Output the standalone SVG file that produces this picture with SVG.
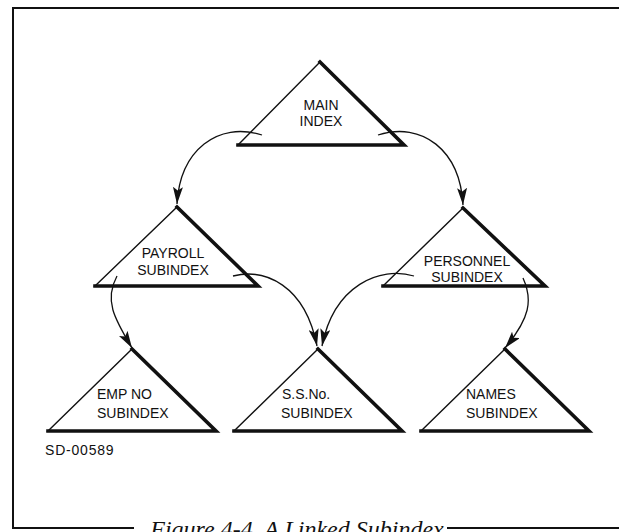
<svg xmlns="http://www.w3.org/2000/svg" width="619" height="532" viewBox="0 0 619 532">
  <style>
    .bg { fill: #ffffff; }
    .frame { fill: none; stroke: #111; stroke-width: 2; }
    .tri-thin { fill: #ffffff; stroke: #111; stroke-width: 1.4; stroke-linejoin: miter; }
    .tri-thick { fill: none; stroke: #111; stroke-width: 3.6; stroke-linejoin: miter; stroke-linecap: square; }
    .label { font-family: "Liberation Sans", Arial, sans-serif; font-size: 14px; fill: #111; }
    .mid { text-anchor: middle; }
    .link { fill: none; stroke: #111; stroke-width: 1.3; marker-end: url(#head); }
    .caption { font-family: "Liberation Serif", "Times New Roman", serif; font-style: italic; font-size: 24px; fill: #111; text-anchor: middle; white-space: pre; }
  </style>
  <defs>
    <marker id="head" markerUnits="userSpaceOnUse" markerWidth="18" markerHeight="10" refX="17" refY="5" orient="auto">
      <path d="M0,0 L17,5 L0,10 L3.5,5 z" fill="#111"/>
    </marker>
  </defs>

  <rect class="bg" x="0" y="0" width="619" height="532"/>

  <!-- border with the caption set into the bottom rule -->
  <g id="frame">
    <path class="frame" d="M619,8 H13 V528 H134"/>
    <path class="frame" d="M447,528 H619"/>
    <text class="caption" x="297" y="537">Figure 4-4  A Linked Subindex</text>
  </g>

  <!-- index triangles: thin left edge, heavy right edge and base -->
  <g id="main-index">
    <polygon class="tri-thin" points="238,145 320,62 404,145"/>
    <polyline class="tri-thick" points="320,62 404,145 238,145"/>
    <text class="label mid" x="321" y="110">MAIN</text>
    <text class="label mid" x="321" y="126">INDEX</text>
  </g>

  <g id="payroll-subindex">
    <polygon class="tri-thin" points="95,286 177,207 258,286"/>
    <polyline class="tri-thick" points="177,207 258,286 95,286"/>
    <text class="label mid" x="173" y="258">PAYROLL</text>
    <text class="label mid" x="173" y="275">SUBINDEX</text>
  </g>

  <g id="personnel-subindex">
    <polygon class="tri-thin" points="383,286 463,208 545,286"/>
    <polyline class="tri-thick" points="463,208 545,286 383,286"/>
    <text class="label mid" x="467" y="266">PERSONNEL</text>
    <text class="label mid" x="467" y="282">SUBINDEX</text>
  </g>

  <g id="empno-subindex">
    <polygon class="tri-thin" points="48,431 132,349 216,431"/>
    <polyline class="tri-thick" points="132,349 216,431 48,431"/>
    <text class="label" x="97" y="399">EMP NO</text>
    <text class="label" x="97" y="418">SUBINDEX</text>
  </g>

  <g id="ssno-subindex">
    <polygon class="tri-thin" points="234,431 318,349 402,431"/>
    <polyline class="tri-thick" points="318,349 402,431 234,431"/>
    <text class="label" x="282" y="399">S.S.No.</text>
    <text class="label" x="281" y="418">SUBINDEX</text>
  </g>

  <g id="names-subindex">
    <polygon class="tri-thin" points="421,431 505,349 589,431"/>
    <polyline class="tri-thick" points="505,349 589,431 421,431"/>
    <text class="label" x="466" y="399">NAMES</text>
    <text class="label" x="466" y="418">SUBINDEX</text>
  </g>

  <text id="drawing-number" class="label" x="45" y="455" letter-spacing="0.8">SD-00589</text>

  <!-- links between indexes -->
  <g id="connectors">
    <path class="link" d="M262,135 C218,121 180,150 177,204"/>
    <path class="link" d="M378,135 C422,121 460,150 463,205"/>
    <path class="link" d="M117,276 C104,300 114,318 132,348"/>
    <path class="link" d="M233,276 C265,268 305,285 317,346"/>
    <path class="link" d="M414,276 C380,266 334,285 322,346"/>
    <path class="link" d="M523,278 C533,300 530,318 505,348"/>
  </g>
</svg>
